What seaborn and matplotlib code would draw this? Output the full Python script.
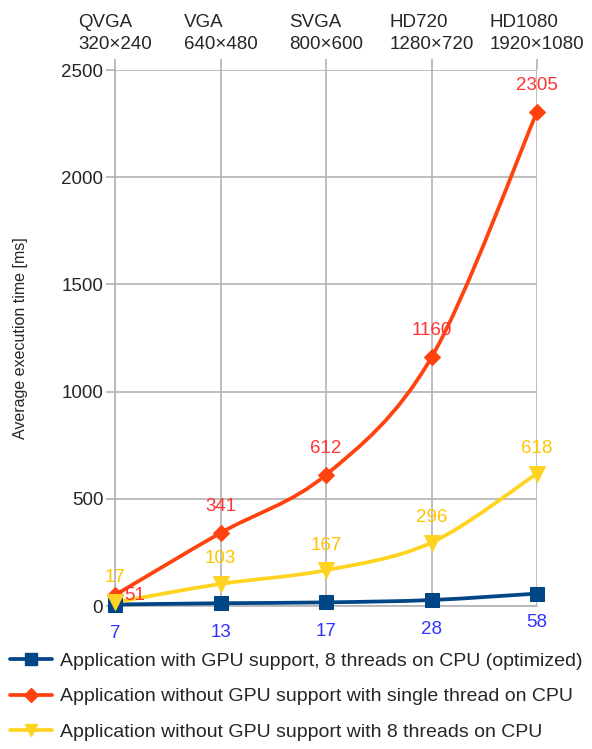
import numpy as np
import pandas as pd
import seaborn as sns
import matplotlib.pyplot as plt
from matplotlib.path import Path
from matplotlib.patches import PathPatch
from matplotlib.lines import Line2D

categories = ["QVGA\n320×240", "VGA\n640×480", "SVGA\n800×600", "HD720\n1280×720", "HD1080\n1920×1080"]
gpu_8threads = [7, 13, 17, 28, 58]
cpu_single = [51, 341, 612, 1160, 2305]
cpu_8threads = [17, 103, 167, 296, 618]

series_names = ["Application with GPU support, 8 threads on CPU (optimized)",
                "Application without GPU support with single thread on CPU",
                "Application without GPU support with 8 threads on CPU"]

sns.set_theme(style="white")
plt.rcParams['font.family'] = ['Liberation Sans', 'DejaVu Sans']

line_cols = ["#004586", "#ff420e", "#ffd320"]
label_cols = ["#3333ff", "#ff3333", "#ffc400"]
markers = ["s", "D", "v"]
msizes = [10.5, 8.5, 11]

df = pd.DataFrame({"x": np.tile(np.arange(len(categories)), 3),
                   "y": gpu_8threads + cpu_single + cpu_8threads,
                   "series": np.repeat(series_names, len(categories))})

fig = plt.figure(figsize=(5.92, 7.49), dpi=100)
ax = fig.add_axes([0.1943, 0.1909, 0.7128, 0.7156])


def smooth_path(xs, ys):
    # catmull-rom turned into cubic bezier segments
    pts = np.column_stack([xs, ys]).astype(float)
    ext = np.vstack([pts[0], pts, pts[-1]])
    verts = [pts[0]]
    codes = [Path.MOVETO]
    for i in range(1, len(ext) - 2):
        p0, p1, p2, p3 = ext[i - 1], ext[i], ext[i + 1], ext[i + 2]
        verts += [p1 + (p2 - p0) / 6, p2 - (p3 - p1) / 6, p2]
        codes += [Path.CURVE4] * 3
    return Path(verts, codes)


for name, col, mk, ms in zip(series_names, line_cols, markers, msizes):
    sub = df[df.series == name]
    ax.add_patch(PathPatch(smooth_path(sub.x, sub.y), facecolor="none",
                           edgecolor=col, lw=2.7, zorder=3, clip_on=False))
    sns.lineplot(data=sub, x="x", y="y", ax=ax, color=col, marker=mk,
                 markersize=ms, markeredgecolor=col, linestyle="none",
                 zorder=4, clip_on=False, legend=False)

# data labels
fs = 13.5
for i, v in enumerate(gpu_8threads):
    ax.annotate(str(v), (i, v), xytext=(0, -21), textcoords="offset points",
                ha="center", va="center", color=label_cols[0], fontsize=fs)
for i, v in enumerate(cpu_single):
    off = (14, 0) if i == 0 else (0, 19)
    ax.annotate(str(v), (i, v), xytext=off, textcoords="offset points",
                ha="center", va="center", color=label_cols[1], fontsize=fs)
for i, v in enumerate(cpu_8threads):
    ax.annotate(str(v), (i, v), xytext=(0, 18), textcoords="offset points",
                ha="center", va="center", color=label_cols[2], fontsize=fs)

ax.set_xlim(0, len(categories) - 1)
ax.set_ylim(0, 2500)
ax.set_yticks(range(0, 2501, 500))
ax.set_xticks(range(len(categories)))
ax.xaxis.tick_top()
ax.set_xticklabels(categories, fontsize=13.5, multialignment="left", linespacing=1.4)
ax.tick_params(axis="x", top=True, length=8, color="#b3b3b3", width=1.2, pad=4)
ax.tick_params(axis="y", left=True, length=6.5, color="#b3b3b3", width=1.2, labelsize=13.5, pad=2)
ax.grid(True, color="#b3b3b3", lw=1.2)
for s in ax.spines.values():
    s.set_visible(False)
for side in ["left", "bottom"]:
    ax.spines[side].set_visible(True)
    ax.spines[side].set_color("#b3b3b3")
    ax.spines[side].set_linewidth(1.2)
ax.set_xlabel("")
ax.set_ylabel("Average execution time [ms]", fontsize=11.5, labelpad=24)

handles = [Line2D([], [], color=c, marker=m, markersize=s * 0.85, lw=2.7)
           for c, m, s in zip(line_cols, markers, msizes)]
fig.legend(handles, series_names, loc="upper left", bbox_to_anchor=(0.003, 0.139),
           frameon=False, fontsize=14, handlelength=2.2, handletextpad=0.4,
           labelspacing=0.9, borderaxespad=0.0)

fig.savefig("out.png", dpi=100)
